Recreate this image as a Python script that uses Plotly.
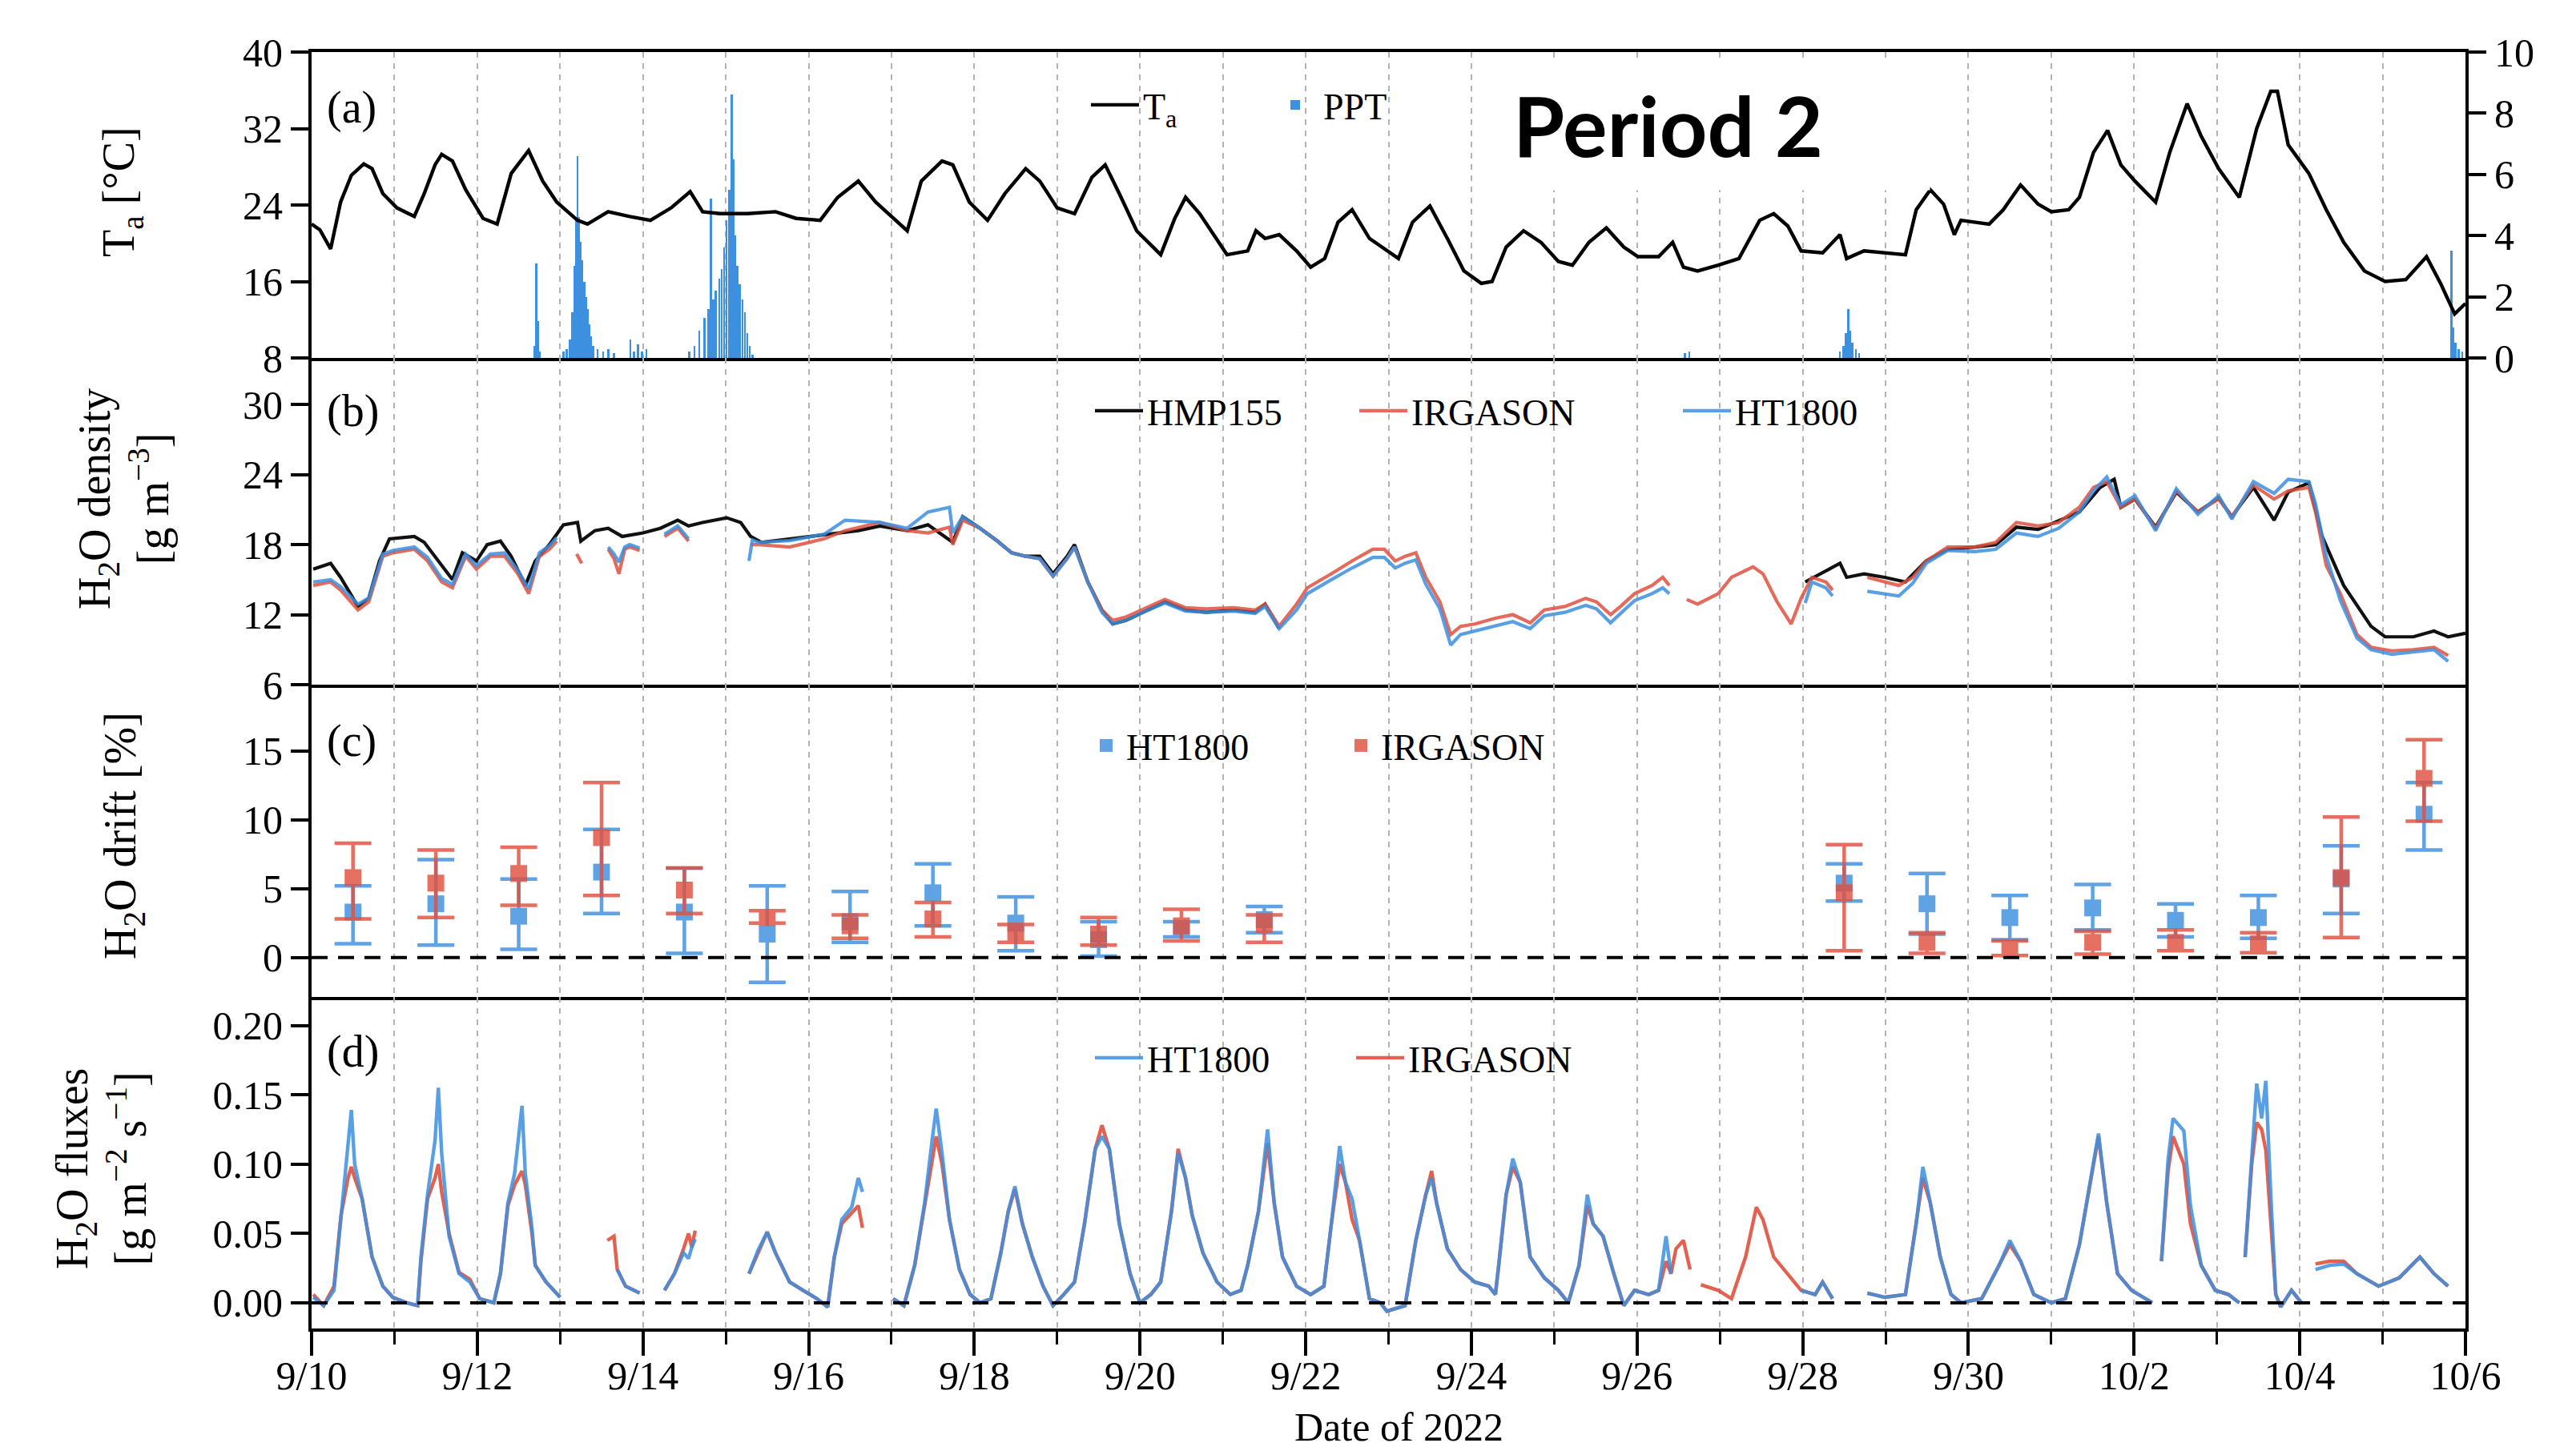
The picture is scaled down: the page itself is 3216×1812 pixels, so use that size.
import pandas as pd
import plotly.graph_objects as go

BASE = pd.Timestamp("2022-09-10")
END = pd.Timestamp("2022-10-06")

# ---------------- Panel (a): air temperature and precipitation ----------------
ta_day = [0.00,0.10,0.23,0.35,0.48,0.63,0.73,0.86,1.03,1.24,1.36,1.49,1.57,1.70,1.86,2.07,2.24,2.41,2.62,2.79,
          2.96,3.21,3.33,3.58,3.84,4.09,4.34,4.57,4.72,4.93,5.26,5.60,5.85,6.14,6.35,6.60,6.81,7.02,7.19,7.36,
          7.61,7.74,7.94,8.16,8.37,8.62,8.79,9.00,9.21,9.42,9.58,9.75,9.96,10.25,10.42,10.55,10.72,11.05,11.30,11.40,
          11.51,11.68,11.89,12.06,12.23,12.39,12.56,12.77,
          13.12,13.29,13.50,13.71,13.91,14.12,14.25,14.42,14.63,14.84,15.05,15.22,15.42,15.63,15.84,16.01,16.26,16.43,16.56,16.73,
          16.98,17.23,17.48,17.65,17.82,17.98,18.24,18.45,18.53,18.74,18.99,19.24,19.37,19.54,19.70,19.83,19.91,20.25,20.42,20.63,
          20.84,21.00,21.21,21.34,21.51,21.68,21.84,22.01,22.26,22.43,22.64,22.81,23.02,23.27,23.48,23.65,23.73,23.86,24.11,24.32,
          24.53,24.78,25.03,25.28,25.53,25.70,25.87,26.00]
ta_val = [22.0,21.4,19.4,24.3,27.1,28.3,27.8,25.2,23.7,22.8,25.2,28.2,29.3,28.6,25.6,22.6,22.0,27.3,29.7,26.5,
          24.3,22.4,22.0,23.3,22.8,22.4,23.7,25.4,23.3,23.1,23.1,23.3,22.6,22.4,24.8,26.5,24.3,22.6,21.3,26.5,
          28.6,28.2,24.3,22.4,25.2,27.8,26.5,23.7,23.1,26.9,28.2,25.2,21.3,18.8,22.6,24.8,23.1,18.8,19.2,21.3,
          20.5,20.9,19.2,17.5,18.4,22.2,23.5,20.5,
          18.4,22.2,23.9,20.5,17.1,15.8,16.0,19.6,21.3,20.1,18.1,17.7,20.1,21.6,19.6,18.6,18.6,20.1,17.5,17.1,
          17.7,18.4,22.4,23.1,21.8,19.2,19.0,20.9,18.4,19.2,19.0,18.8,23.5,25.6,24.1,20.9,22.4,22.0,23.5,26.1,
          24.1,23.3,23.5,24.8,29.5,31.8,28.2,26.5,24.3,29.5,34.6,31.2,27.8,24.8,32.0,35.9,35.9,30.3,27.3,23.5,
          20.1,17.1,16.0,16.2,18.6,15.8,12.6,13.7]

ppt_day = [2.69,2.71,2.73,2.75,
           3.04,3.08,3.12,3.15,3.17,3.19,3.21,3.23,3.25,3.27,3.29,3.31,3.33,3.35,3.37,3.40,3.45,3.52,3.58,3.65,
           3.85,3.89,3.94,3.99,4.04,
           4.56,4.62,4.68,4.74,4.79,4.82,4.85,4.88,4.92,4.95,4.98,5.01,5.04,5.07,5.09,5.11,5.14,5.17,5.20,5.23,5.26,5.29,5.32,
           16.58,16.63,
           18.45,18.49,18.52,18.55,18.57,18.60,18.64,18.68,
           25.83,25.85,25.88,25.92,25.96]
ppt_val = [0.4,3.1,1.2,0.2,
           0.2,0.3,0.6,1.5,3.0,4.5,6.6,4.6,3.8,3.2,2.5,2.0,1.6,1.1,0.7,0.4,0.3,0.2,0.3,0.15,
           0.6,0.2,0.45,0.2,0.3,
           0.2,0.4,0.9,1.3,1.6,5.2,1.9,2.2,2.6,2.9,3.6,4.5,5.5,8.6,6.5,4.0,3.0,2.4,1.9,1.5,0.8,0.4,0.1,
           0.15,0.2,
           0.2,0.4,0.8,1.6,0.9,0.5,0.3,0.15,
           3.5,1.0,0.5,0.3,0.2]

# ---------------- Panel (b): H2O density ----------------
hmp_day = [0.02,0.23,0.35,0.56,0.69,0.82,0.94,1.24,1.36,1.57,1.70,1.82,1.99,2.12,2.28,2.41,2.58,2.70,2.87,3.04,
           3.21,3.25,3.42,3.58,3.75,4.00,4.21,4.42,4.55,4.72,5.01,5.18,5.30,5.43,5.77,6.19,6.60,6.86,7.19,7.44,
           7.74,7.86,8.07,8.28,8.45,8.62,8.79,8.95,9.12,9.21,9.37,9.54,9.67,9.83,10.04,10.30,10.55,10.80,11.13,11.39,
           11.51,11.68,11.80,
           18.03,18.32,18.45,18.53,18.74,18.99,19.24,19.49,19.75,20.08,20.33,20.58,20.84,21.34,21.59,21.76,21.84,22.01,
           22.26,22.51,22.77,23.02,23.18,23.44,23.69,23.86,24.11,24.27,24.53,24.86,25.03,25.37,25.62,25.79,26.00]
hmp_val = [15.9,16.4,15.2,12.7,13.4,16.6,18.5,18.7,18.2,16.2,15.0,17.3,16.6,18.0,18.3,17.0,14.5,16.6,18.0,19.7,
           19.9,18.3,19.2,19.4,18.7,19.0,19.4,20.1,19.6,19.9,20.3,19.9,18.7,18.2,18.5,18.9,19.2,19.6,19.2,19.7,
           18.2,20.4,19.4,18.3,17.3,17.0,17.0,15.5,17.0,18.0,14.8,12.4,11.2,11.5,12.2,13.1,12.4,12.2,12.4,12.2,
           12.9,10.8,None,
           14.8,15.9,16.4,15.2,15.5,15.2,14.8,16.6,17.6,17.8,18.0,19.5,19.3,20.8,22.9,23.6,21.2,21.9,
           19.5,22.5,20.8,22.0,20.4,22.9,20.1,22.5,23.3,18.7,14.5,11.0,10.1,10.1,10.6,10.1,10.4]

irg_rho_day = [0.02,0.23,0.35,0.56,0.69,0.86,0.98,1.24,1.40,1.57,1.70,1.86,1.99,2.16,2.33,2.49,2.62,2.75,2.87,2.96,3.05,
               3.20,3.26,3.35,
               3.58,3.65,3.71,3.78,3.84,3.96,4.10,
               4.26,4.42,4.55,4.90,
               5.30,5.40,5.77,6.19,6.44,6.86,7.19,7.44,7.70,7.74,7.86,8.07,8.28,8.45,8.62,8.79,8.95,9.12,9.21,9.37,
               9.54,9.67,9.83,10.04,10.30,10.55,10.80,11.13,11.39,11.51,11.68,11.89,12.02,12.31,12.56,12.81,
               12.95,13.08,13.20,13.33,13.45,13.62,13.75,13.87,14.04,14.29,14.50,14.71,14.88,15.13,15.38,15.51,15.68,
               15.80,15.97,16.18,16.31,16.39,16.50,
               16.60,16.73,16.98,17.14,17.40,17.52,17.69,17.86,17.98,18.11,18.28,18.36,18.60,
               18.78,18.99,19.16,19.33,19.49,19.75,20.08,20.33,20.58,20.84,21.09,21.34,21.51,21.67,21.84,22.01,22.26,
               22.51,22.77,23.02,23.18,23.44,23.69,23.86,24.11,24.19,24.32,24.49,24.69,24.86,25.11,25.37,25.62,25.79]
irg_rho = [14.5,14.8,14.1,12.4,13.1,17.0,17.3,17.6,16.6,14.8,14.3,17.0,15.9,17.0,17.0,15.5,13.8,17.0,17.6,18.3,None,
           17.2,16.4,None,
           17.6,16.8,15.5,17.6,17.8,17.5,None,
           18.7,19.4,18.3,None,
           18.0,18.0,17.8,18.5,19.2,19.9,19.2,19.0,19.5,18.0,20.1,19.4,18.3,17.3,17.0,16.8,15.3,16.8,17.8,14.8,
           12.4,11.5,11.8,12.5,13.3,12.6,12.5,12.6,12.4,12.9,11.0,12.9,14.3,15.5,16.6,17.6,
           17.6,16.6,17.0,17.3,15.2,13.1,10.3,11.0,11.2,11.7,12.0,11.3,12.4,12.7,13.4,13.1,12.0,
           12.7,13.8,14.5,15.2,14.5,None,
           13.3,12.9,13.8,15.2,16.1,15.5,13.1,11.2,13.4,15.2,14.8,14.1,None,
           15.2,14.8,14.5,15.2,16.6,17.8,17.8,18.2,19.9,19.6,19.9,21.2,22.9,23.4,21.2,21.9,19.4,
           22.6,20.8,21.9,20.4,23.1,21.9,22.6,22.9,20.8,16.2,13.8,10.3,9.2,8.9,9.0,9.2,8.5]

ht_rho_day = [0.02,0.23,0.35,0.56,0.69,0.86,0.98,1.24,1.40,1.57,1.70,1.86,1.99,2.16,2.33,2.49,2.62,2.75,2.87,2.96,3.05,
              3.58,3.65,3.71,3.78,3.84,3.96,4.10,
              4.26,4.42,4.55,4.90,
              5.28,5.32,5.40,5.77,6.19,6.44,6.86,7.19,7.44,7.70,7.74,7.86,8.07,8.28,8.45,8.62,8.79,8.95,9.12,9.21,9.37,
              9.54,9.67,9.83,10.04,10.30,10.55,10.80,11.13,11.39,11.51,11.68,11.89,12.02,12.31,12.56,12.81,
              12.95,13.08,13.20,13.33,13.45,13.62,13.75,13.87,14.04,14.29,14.50,14.71,14.88,15.13,15.38,15.51,15.68,
              15.80,15.97,16.18,16.31,16.39,16.50,
              18.03,18.11,18.28,18.36,18.60,
              18.78,18.99,19.16,19.33,19.49,19.75,20.08,20.33,20.58,20.84,21.09,21.34,21.51,21.67,21.84,22.01,22.26,
              22.51,22.77,23.02,23.18,23.44,23.69,23.86,24.11,24.19,24.32,24.49,24.69,24.86,25.11,25.37,25.62,25.79]
ht_rho = [14.8,15.0,14.4,12.9,13.4,17.2,17.5,17.8,16.9,15.1,14.6,17.2,16.2,17.2,17.3,15.8,14.2,17.3,17.9,18.6,None,
          17.8,17.2,16.5,17.8,18.0,17.7,None,
          18.9,19.6,18.5,None,
          16.6,18.4,18.2,18.35,18.9,20.1,19.9,19.4,20.8,21.2,19.0,20.4,19.4,18.3,17.3,17.0,16.8,15.3,16.8,17.8,14.8,
          12.2,11.2,11.5,12.2,13.0,12.3,12.2,12.3,12.1,12.7,10.8,12.4,13.8,15.0,16.0,16.9,
          16.9,16.0,16.4,16.7,14.6,12.5,9.4,10.3,10.6,11.0,11.4,10.8,11.9,12.2,12.8,12.5,11.3,
          12.1,13.2,13.8,14.3,13.8,None,
          13.0,14.8,14.3,13.6,None,
          14.0,13.8,13.6,14.7,16.4,17.5,17.4,17.6,19.0,18.7,19.4,20.8,22.6,23.8,21.4,22.2,19.2,
          22.8,20.6,22.2,20.2,23.4,22.4,23.6,23.4,21.5,17.0,13.2,10.0,9.0,8.6,8.8,9.0,8.0]

# ---------------- Panel (c): daily H2O drift (mean, upper, lower) ----------------
drift_day = [0.5,1.5,2.5,3.5,4.5,5.5,6.5,7.5,8.5,9.5,10.5,11.5,18.5,19.5,20.5,21.5,22.5,23.5,24.5,25.5]
ht_drift = [3.3,3.9,3.0,6.2,3.3,1.7,2.6,4.7,2.5,1.3,2.1,2.75,5.4,3.9,2.9,3.6,2.7,2.9,5.7,10.4]
ht_hi    = [5.2,7.1,5.7,9.3,6.5,5.2,4.8,6.8,4.4,2.6,2.6,3.7,6.8,6.1,4.5,5.3,3.9,4.5,8.1,12.7]
ht_lo    = [1.0,0.9,0.6,3.2,0.3,-1.8,1.1,2.3,0.5,0.1,1.5,1.8,4.1,1.7,1.3,2.0,1.5,1.4,3.2,7.8]
irg_drift = [5.8,5.4,6.1,8.7,4.9,2.9,2.3,2.8,1.7,1.7,2.3,2.4,4.7,1.1,0.6,1.1,1.1,1.0,5.8,13.0]
irg_hi    = [8.3,7.8,8.0,12.7,6.5,3.4,3.1,4.0,2.4,2.9,3.5,3.1,8.2,1.8,1.2,1.9,2.0,1.8,10.2,15.8]
irg_lo    = [2.8,2.9,3.8,4.5,3.2,2.5,1.4,1.5,1.1,0.9,1.2,1.1,0.5,0.3,0.15,0.25,0.5,0.35,1.45,9.9]

# ---------------- Panel (d): H2O fluxes ----------------
flux_day = [0.02,0.145,0.27,0.355,0.44,0.48,0.52,0.61,0.73,0.86,0.98,1.15,1.28,
            1.32,1.40,1.49,1.53,1.57,1.66,1.78,1.91,2.03,2.20,
            2.28,2.37,2.45,2.54,2.58,2.66,2.70,2.83,3.00,3.20,
            3.57,3.65,3.69,3.79,3.96,4.10,
            4.26,4.38,4.49,4.55,4.59,4.63,4.90,
            5.28,5.39,5.50,5.60,5.77,5.93,6.10,6.23,6.31,6.40,6.52,6.60,6.65,6.80,
            7.02,7.15,7.28,7.40,7.49,7.54,7.61,7.70,7.82,7.95,8.07,
            8.20,8.32,8.41,8.49,8.58,8.70,8.83,8.95,9.08,
            9.21,9.33,9.46,9.54,9.63,9.75,9.88,10.00,10.13,
            10.25,10.38,10.46,10.55,10.63,10.76,10.93,11.09,11.22,
            11.30,11.43,11.54,11.62,11.72,11.89,12.06,12.22,
            12.31,12.41,12.48,12.56,12.65,12.69,12.77,12.90,12.98,
            13.20,13.33,13.45,13.52,13.58,13.71,13.87,14.04,14.21,14.29,
            14.33,14.42,14.50,14.59,14.71,14.88,15.05,15.17,
            15.30,15.40,15.47,15.59,15.72,15.84,15.97,16.14,16.26,16.35,16.41,
            16.47,16.56,16.64,16.70,
            16.77,16.98,17.14,17.31,17.44,17.52,17.65,17.82,17.98,18.15,18.24,18.36,18.55,
            18.78,18.99,19.24,19.37,19.45,19.54,19.66,19.79,19.91,
            20.16,20.37,20.50,20.63,20.79,21.00,21.17,
            21.34,21.47,21.57,21.67,21.80,21.97,22.14,22.22,22.28,
            22.33,22.41,22.47,22.60,22.68,22.81,22.98,23.14,23.27,23.30,
            23.34,23.42,23.48,23.54,23.59,23.65,23.71,23.77,23.90,24.02,24.10,
            24.19,24.36,24.53,24.69,24.95,25.20,25.45,25.62,25.79]
flux_irg = [0.006,-0.002,0.012,0.063,0.090,0.098,0.090,0.075,0.033,0.012,0.004,0.000,-0.002,
            0.030,0.075,0.090,0.100,0.080,0.050,0.022,0.017,0.003,0.000,
            0.021,0.070,0.085,0.095,0.085,0.050,0.027,0.015,0.004,None,
            0.045,0.048,0.024,0.012,0.007,None,
            0.009,0.021,0.039,0.050,0.040,0.052,None,
            0.021,0.036,0.051,0.036,0.015,0.009,0.003,-0.003,0.033,0.057,0.065,0.070,0.054,None,
            0.003,-0.002,0.027,0.070,0.105,0.120,0.100,0.060,0.024,0.006,0.000,
            0.003,0.036,0.066,0.082,0.057,0.033,0.012,-0.002,0.006,
            0.015,0.057,0.111,0.128,0.111,0.057,0.021,0.000,0.006,
            0.015,0.066,0.111,0.090,0.063,0.036,0.015,0.006,0.009,
            0.027,0.066,0.115,0.072,0.033,0.012,0.006,0.012,
            0.057,0.100,0.087,0.060,0.045,0.030,0.003,0.000,-0.006,
            -0.002,0.045,0.078,0.095,0.072,0.039,0.024,0.015,0.012,0.006,
            0.027,0.078,0.098,0.087,0.033,0.018,0.009,0.000,
            0.027,0.070,0.057,0.048,0.021,-0.002,0.009,0.006,0.009,0.030,0.021,
            0.039,0.045,0.024,None,
            0.013,0.009,0.003,0.033,0.069,0.060,0.033,0.021,0.009,0.006,0.015,0.003,None,
            0.007,0.004,0.006,0.057,0.090,0.072,0.033,0.006,0.000,
            0.003,0.027,0.042,0.030,0.006,0.000,0.003,
            0.042,0.087,0.120,0.072,0.021,0.009,0.003,0.000,None,
            0.030,0.095,0.120,0.100,0.057,0.027,0.009,0.006,0.000,None,
            0.033,0.100,0.130,0.125,0.110,0.060,0.006,-0.003,0.009,0.000,None,
            0.028,0.030,0.030,0.021,0.012,0.018,0.033,0.021,0.012]
flux_ht = [0.004,-0.002,0.009,0.060,0.117,0.139,0.100,0.075,0.033,0.012,0.004,0.000,-0.002,
           0.033,0.078,0.117,0.155,0.108,0.048,0.021,0.015,0.003,0.000,
           0.021,0.072,0.093,0.142,0.093,0.054,0.027,0.015,0.004,None,
           None,None,0.024,0.012,0.007,None,
           0.009,0.021,0.036,0.032,0.040,0.046,None,
           0.021,0.038,0.051,0.036,0.015,0.009,0.003,-0.003,0.033,0.060,0.069,0.090,0.080,None,
           0.003,-0.002,0.027,0.072,0.117,0.140,0.108,0.060,0.024,0.006,0.000,
           0.003,0.036,0.066,0.084,0.057,0.033,0.012,-0.002,0.006,
           0.015,0.057,0.111,0.120,0.111,0.057,0.021,0.000,0.006,
           0.015,0.066,0.108,0.090,0.063,0.036,0.015,0.006,0.009,
           0.027,0.066,0.125,0.072,0.033,0.012,0.006,0.012,
           0.057,0.113,0.087,0.075,0.045,0.030,0.003,0.000,-0.006,
           -0.002,0.045,0.078,0.090,0.072,0.039,0.024,0.015,0.012,0.006,
           0.027,0.078,0.104,0.087,0.033,0.018,0.009,0.000,
           0.027,0.078,0.057,0.048,0.021,-0.002,0.009,0.006,0.009,0.048,0.021,
           None,None,None,None,
           None,None,None,None,None,None,None,None,0.009,0.006,0.015,0.003,None,
           0.007,0.004,0.006,0.057,0.098,0.072,0.033,0.006,0.000,
           0.003,0.027,0.045,0.030,0.006,0.000,0.003,
           0.042,0.087,0.122,0.072,0.021,0.009,0.003,0.000,None,
           0.030,0.103,0.133,0.124,0.070,0.027,0.009,0.006,0.000,None,
           0.033,0.103,0.158,0.133,0.160,0.078,0.006,-0.003,0.009,0.000,None,
           0.024,0.027,0.028,0.021,0.012,0.018,0.033,0.021,0.012]

# ---------------- styling ----------------
SERIF = "Liberation Serif"
BLUE = "#3D8FE0"
RED = "#E0513F"
TICK = 50
LEG = 46
TITLE = 56
LW = 4
DAY_MS = 86400000
W, H = 3216, 1812
ML, MR, MT, MB = 381, 146, 57, 161


def dt(days):
    return [BASE + pd.Timedelta(days=d) for d in days]


fig = go.Figure()

# (a)
fig.add_trace(go.Bar(x=dt(ppt_day), y=ppt_val, width=0.025 * DAY_MS, name="PPT",
                     marker=dict(color=BLUE, line=dict(width=0)),
                     xaxis="x", yaxis="y", legend="legend", legendrank=2))
fig.add_trace(go.Scatter(x=dt(ta_day), y=ta_val, mode="lines", name="T<sub>a</sub>",
                         line=dict(color="black", width=4.4),
                         xaxis="x", yaxis="y5", legend="legend", legendrank=1, legendwidth=150))

# (b)
fig.add_trace(go.Scatter(x=dt(hmp_day), y=hmp_val, mode="lines", name="HMP155",
                         line=dict(color="#111111", width=4.2),
                         xaxis="x2", yaxis="y2", legend="legend2", legendwidth=255))
fig.add_trace(go.Scatter(x=dt(irg_rho_day), y=irg_rho, mode="lines", name="IRGASON",
                         line=dict(color=RED, width=4.2), opacity=0.85,
                         xaxis="x2", yaxis="y2", legend="legend2", legendwidth=329))
fig.add_trace(go.Scatter(x=dt(ht_rho_day), y=ht_rho, mode="lines", name="HT1800",
                         line=dict(color=BLUE, width=4.2), opacity=0.85,
                         xaxis="x2", yaxis="y2", legend="legend2"))

# (c)
for name, val, hi, lo, col in [("HT1800", ht_drift, ht_hi, ht_lo, BLUE),
                               ("IRGASON", irg_drift, irg_hi, irg_lo, RED)]:
    fig.add_trace(go.Scatter(
        x=dt(drift_day), y=val, mode="markers", name=name,
        marker=dict(symbol="square", size=21, color=col),
        error_y=dict(type="data", symmetric=False,
                     array=[h - v for h, v in zip(hi, val)],
                     arrayminus=[v - l for v, l in zip(val, lo)],
                     color=col, thickness=4.5, width=23),
        opacity=0.82, xaxis="x3", yaxis="y3", legend="legend3", legendwidth=263))

# (d)
fig.add_trace(go.Scatter(x=dt(flux_day), y=flux_irg, mode="lines", name="IRGASON",
                         line=dict(color=RED, width=4.4), opacity=0.9,
                         xaxis="x4", yaxis="y4", legend="legend4", legendrank=2))
fig.add_trace(go.Scatter(x=dt(flux_day), y=flux_ht, mode="lines", name="HT1800",
                         line=dict(color=BLUE, width=4.4), opacity=0.85,
                         xaxis="x4", yaxis="y4", legend="legend4", legendrank=1, legendwidth=251))

# ---------------- axes ----------------
GRID = dict(showgrid=True, gridcolor="#b3b3b3", gridwidth=1.6, griddash="7px,7px")


def xax(anchor, top=False, bottom=False):
    d = dict(type="date", range=[BASE, END], anchor=anchor, side="bottom",
             showline=True, mirror=top, linewidth=LW, linecolor="black",
             zeroline=False, dtick=2 * DAY_MS, tick0=BASE, **GRID,
             minor=dict(dtick=DAY_MS, tick0=BASE, **GRID))
    if bottom:
        d.update(ticks="outside", ticklen=30, tickwidth=4, tickcolor="black",
                 ticklabelstandoff=-18,
                 tickformat="%-m/%-d", tickfont=dict(family=SERIF, size=TICK, color="black"))
        d["minor"].update(ticks="outside", ticklen=16, tickwidth=3, tickcolor="black")
    else:
        d.update(ticks="", showticklabels=False)
    return d


def yax(domain, rng, tickvals, anchor, side="left", fmt=None, overlay=None):
    d = dict(range=rng, tickvals=tickvals, anchor=anchor, side=side,
             showline=True, mirror=True, linewidth=LW, linecolor="black",
             ticks="outside", ticklen=22, tickwidth=4, tickcolor="black",
             showgrid=False, zeroline=False,
             tickfont=dict(family=SERIF, size=TICK, color="black"))
    if overlay:
        d["overlaying"] = overlay
    else:
        d["domain"] = domain
    if fmt:
        d["tickformat"] = fmt
    return d


plot_h = H - MT - MB


def py(y_px):
    return (H - MB - y_px) / plot_h


def px(x_px):
    return (x_px - ML) / (W - ML - MR)


dom_a = [py(439), 1.0]
dom_b = [py(847), py(439)]
dom_c = [py(1237), py(847)]
dom_d = [0.0, py(1237)]


def leg(x, y, iw=60):
    return dict(x=x, y=y, xanchor="left", yanchor="middle", orientation="h",
                bgcolor="rgba(0,0,0,0)", borderwidth=0, itemwidth=iw,
                font=dict(family=SERIF, size=LEG, color="black"))


fig.update_layout(
    width=W, height=H, autosize=False,
    margin=dict(l=ML, r=MR, t=MT, b=MB, pad=0),
    paper_bgcolor="white", plot_bgcolor="white",
    font=dict(family=SERIF, size=TICK, color="black"),
    bargap=0,
    xaxis=xax("y", top=True), xaxis2=xax("y2"), xaxis3=xax("y3"), xaxis4=xax("y4", bottom=True),
    yaxis=yax(dom_a, [0, 10], [0, 2, 4, 6, 8, 10], "x", side="right"),
    yaxis5=yax(None, [8, 40], [8, 16, 24, 32, 40], "x", side="left", overlay="y"),
    yaxis2=yax(dom_b, [6, 34], [6, 12, 18, 24, 30], "x2"),
    yaxis3=yax(dom_c, [-2.86, 19.8], [0, 5, 10, 15], "x3"),
    yaxis4=yax(dom_d, [-0.0185, 0.2205], [0, 0.05, 0.10, 0.15, 0.20], "x4", fmt=".2f"),
    legend=leg(px(1349), py(123)),
    legend2=leg(px(1354), py(505)),
    legend3=leg(px(1348), py(923), iw=40),
    legend4=leg(px(1354), py(1313)),
    showlegend=True,
)

# zero reference lines in (c) and (d)
for yr, xr in [("y3", "x3 domain"), ("y4", "x4 domain")]:
    fig.add_shape(type="line", xref=xr, x0=0, x1=1, yref=yr, y0=0, y1=0,
                  line=dict(color="black", width=4, dash="20px,13px"), layer="above")

# panel labels
for lab, ypx in [("(a)", 127), ("(b)", 505), ("(c)", 917), ("(d)", 1305)]:
    fig.add_annotation(text=lab, xref="paper", yref="paper", x=px(398), y=py(ypx),
                       xanchor="left", yanchor="middle", showarrow=False,
                       font=dict(family=SERIF, size=56, color="black"))

# y-axis titles
for txt, xpx, ypx in [("T<sub>a</sub> [°C]", 144, 232),
                      ("H<sub>2</sub>O density<br>[g m<sup>−3</sup>]", 146, 615),
                      ("H<sub>2</sub>O drift [%]", 146, 1036),
                      ("H<sub>2</sub>O fluxes<br>[g m<sup>−2</sup> s<sup>−1</sup>]", 118, 1452)]:
    fig.add_annotation(text=txt, xref="paper", yref="paper", x=px(xpx), y=py(ypx),
                       xanchor="center", yanchor="middle", textangle=-90, showarrow=False,
                       font=dict(family=SERIF, size=TITLE, color="black"))

# x-axis title
fig.add_annotation(text="Date of 2022", xref="paper", yref="paper", x=px(1739), y=py(1774),
                   xanchor="center", yanchor="middle", showarrow=False,
                   font=dict(family=SERIF, size=50, color="black"))

# "Period 2" label on a white box
fig.add_annotation(text="<b>Period 2</b>", xref="paper", yref="paper", x=px(1880), y=py(65),
                   xanchor="left", yanchor="top", showarrow=False, align="left", valign="middle",
                   width=520, height=163, bgcolor="white", borderpad=0,
                   font=dict(family="Lato", size=104, color="black"))

fig.write_html("out.html")
